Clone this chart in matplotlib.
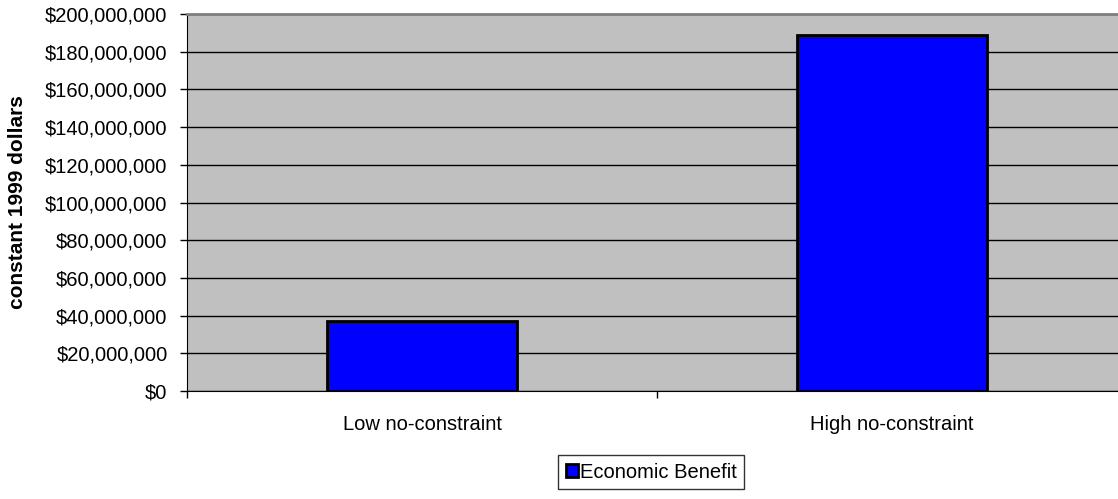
import matplotlib.pyplot as plt
import numpy as np
from matplotlib.ticker import FuncFormatter, FixedLocator

# Scenario values in constant 1999 dollars
categories = ["Low no-constraint", "High no-constraint"]
benefit = [37000000, 189000000]
series_name = "Economic Benefit"

plt.rcParams['font.family'] = ['Liberation Sans', 'DejaVu Sans']
fs = 14.5

fig = plt.figure(figsize=(11.18, 4.99), dpi=100)
ax = fig.add_axes([0.1673, 0.2164, 0.8408, 0.7555])
ax.set_facecolor('#C0C0C0')

x = np.arange(len(categories))
ax.bar(x, benefit, width=0.405, color='#0000FF', edgecolor='black',
       linewidth=2, label=series_name, zorder=3)

# Axis range and gridlines
ax.set_ylim(0, 200000000)
ax.set_xlim(-0.5, 1.5)
ax.set_yticks(np.arange(0, 200000001, 20000000))
ax.yaxis.set_major_formatter(FuncFormatter(lambda v, p: "${:,.0f}".format(v)))
ax.grid(axis='y', color='black', linewidth=1, zorder=1)

# Category labels without marks, separators as minor ticks
ax.set_xticks(x)
ax.set_xticklabels(categories)
ax.tick_params(axis='x', which='major', length=0, pad=17, labelsize=fs)
ax.xaxis.set_minor_locator(FixedLocator([-0.5, 0.5, 1.5]))
ax.tick_params(axis='x', which='minor', length=5, width=1, color='black')
ax.tick_params(axis='y', length=5, width=1, labelsize=fs, pad=9)

ax.set_ylabel("constant 1999 dollars", fontsize=15, fontweight='bold')
ax.yaxis.set_label_coords((27 - 187) / 940, 0.5)

# Frame: black left/bottom, grey top, no right
ax.spines['left'].set_color('black')
ax.spines['bottom'].set_color('black')
ax.spines['top'].set_color('#808080')
ax.spines['top'].set_linewidth(2)
ax.spines['right'].set_visible(False)

leg = fig.legend(loc='center', bbox_to_anchor=(651 / 1118, 1 - 472 / 499),
                 fontsize=fs, frameon=True, fancybox=False, edgecolor='black',
                 handlelength=0.6, handleheight=0.6, handletextpad=0.1,
                 borderpad=0.35, borderaxespad=0)
leg.get_frame().set_linewidth(1)

plt.savefig("out.png", dpi=100)
